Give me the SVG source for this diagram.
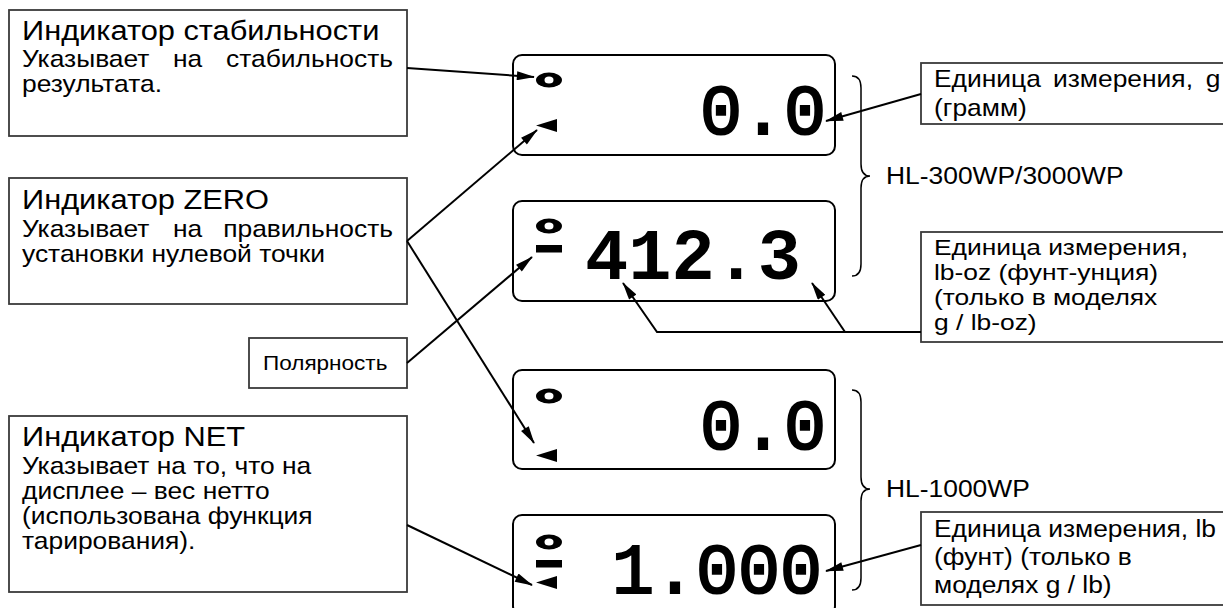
<svg xmlns="http://www.w3.org/2000/svg" xmlns:xlink="http://www.w3.org/1999/xlink" width="1223" height="608" viewBox="0 0 1223 608">
<style>
.box{fill:#fff;stroke:#3a3a3a;stroke-width:1.8}
.disp{fill:#fff;stroke:#000;stroke-width:2}
.ttl{font-family:"Liberation Sans",Arial,sans-serif;font-size:28px;fill:#000}
.bd{font-family:"Liberation Sans",Arial,sans-serif;font-size:24px;fill:#000}
.bs{font-family:"Liberation Sans",Arial,sans-serif;font-size:22px;fill:#000}
.sm{font-family:"Liberation Sans",Arial,sans-serif;font-size:20.5px;fill:#000}
.dig{font-family:"Liberation Mono","Courier New",monospace;font-size:70px;fill:#000;stroke:#000;stroke-width:2.2}
.digb{font-family:"Liberation Mono","Courier New",monospace;font-size:72px;font-weight:bold;fill:#000}
.con{fill:none;stroke:#000;stroke-width:2}
.brace{fill:none;stroke:#000;stroke-width:1.5}
</style>
<defs>
<marker id="ah" markerUnits="userSpaceOnUse" viewBox="0 0 20 10" markerWidth="20" markerHeight="9" refX="19" refY="5" orient="auto">
<path d="M0,0 L20,5 L0,10 z" fill="#000"/>
</marker>
<g id="dot"><ellipse cx="0" cy="0" rx="13" ry="7.5" fill="#000"/><ellipse cx="0" cy="0" rx="4.5" ry="3.5" fill="#fff"/></g>
<polygon id="tri" points="0,6.5 21,0 21,13" fill="#000"/>
<rect id="bar" width="26" height="7.5" fill="#000"/>
</defs>
<rect width="1223" height="608" fill="#fff"/>

<g id="stability">
<rect class="box" x="9" y="10" width="398" height="126"/>
<g transform="matrix(1.1,0,0,1,22,0)">
<text class="ttl" x="0" y="40">Индикатор стабильности</text>
<text class="bd" x="0" y="67">Указывает</text>
<text class="bd" x="137.3" y="67">на</text>
<text class="bd" x="337.3" y="67" text-anchor="end">стабильность</text>
<text class="bd" x="0" y="92">результата.</text>
</g>
</g>

<g id="zero">
<rect class="box" x="9" y="178" width="398" height="126"/>
<g transform="matrix(1.1,0,0,1,22,0)">
<text class="ttl" x="0" y="209">Индикатор ZERO</text>
<text class="bd" x="0" y="237">Указывает</text>
<text class="bd" x="137.3" y="237">на</text>
<text class="bd" x="337.3" y="237" text-anchor="end">правильность</text>
<text class="bd" x="0" y="262">установки нулевой точки</text>
</g>
</g>

<g id="polarity">
<rect class="box" x="249" y="338" width="158" height="50"/>
<g transform="matrix(1.1,0,0,1,263,0)">
<text class="sm" x="0" y="370">Полярность</text>
</g>
</g>

<g id="net">
<rect class="box" x="9" y="416" width="398" height="176"/>
<g transform="matrix(1.1,0,0,1,22,0)">
<text class="ttl" x="0" y="446">Индикатор NET</text>
<text class="bd" x="0" y="474">Указывает на то, что на</text>
<text class="bd" x="0" y="499">дисплее – вес нетто</text>
<text class="bd" x="0" y="524">(использована функция</text>
<text class="bd" x="0" y="549">тарирования).</text>
</g>
</g>

<g id="display1">
<rect class="disp" x="513" y="55" width="322" height="100" rx="9"/>
<use xlink:href="#dot" x="549" y="80"/>
<use xlink:href="#tri" x="536" y="119"/>
<text class="dig" x="700" y="134">0.0</text>
</g>

<g id="display2">
<rect class="disp" x="513" y="201" width="322" height="100" rx="9"/>
<use xlink:href="#dot" x="549" y="226"/>
<use xlink:href="#bar" x="536" y="245"/>
<text class="digb" x="585" y="279">412.3</text>
</g>

<g id="display3">
<rect class="disp" x="513" y="370" width="322" height="99" rx="9"/>
<use xlink:href="#dot" x="549" y="396"/>
<use xlink:href="#tri" x="536" y="449"/>
<text class="dig" x="700" y="449">0.0</text>
</g>

<g id="display4">
<rect class="disp" x="513" y="515" width="322" height="100" rx="9"/>
<use xlink:href="#dot" x="549" y="542"/>
<use xlink:href="#bar" x="536" y="560"/>
<use xlink:href="#tri" x="536" y="576"/>
<text class="dig" x="612" y="593" font-size="72">1.000</text>
</g>

<g id="unit-g">
<rect class="box" x="921" y="63" width="320" height="61"/>
<g transform="matrix(1.1,0,0,1,934,0)">
<text class="bd" x="0" y="87">Единица</text>
<text class="bd" x="108.2" y="87">измерения,</text>
<text class="bd" x="247" y="87">g</text>
<text class="bd" x="0" y="116">(грамм)</text>
</g>
</g>

<g id="unit-lboz">
<rect class="box" x="921" y="232" width="320" height="110"/>
<g transform="matrix(1.2,0,0,1,934,0)">
<text class="bs" x="0" y="255">Единица измерения,</text>
<text class="bs" x="0" y="280">lb-oz (фунт-унция)</text>
<text class="bs" x="0" y="305">(только в моделях</text>
<text class="bs" x="0" y="330">g / lb-oz)</text>
</g>
</g>

<g id="unit-lb">
<rect class="box" x="921" y="512" width="320" height="93"/>
<g transform="matrix(1.1,0,0,1,934,0)">
<text class="bd" x="0" y="537">Единица измерения, lb</text>
<text class="bd" x="0" y="565">(фунт) (только в</text>
<text class="bd" x="0" y="593">моделях g / lb)</text>
</g>
</g>

<g id="model-300">
<path class="brace" d="M852,76 Q861,76 861,88 L861,164 Q861,176 870,176 Q861,176 861,188 L861,264 Q861,276 852,276"/>
<g transform="matrix(1.1,0,0,1,886,0)">
<text class="bd" x="0" y="184">HL-300WP/3000WP</text>
</g>
</g>

<g id="model-1000">
<path class="brace" d="M852,390 Q861,390 861,402 L861,477 Q861,489 870,489 Q861,489 861,501 L861,578 Q861,590 852,590"/>
<g transform="matrix(1.1,0,0,1,886,0)">
<text class="bd" x="0" y="497">HL-1000WP</text>
</g>
</g>

<g id="connectors">
<path class="con" d="M407,68 L534,77" marker-end="url(#ah)"/>
<path class="con" d="M407,241 L537,130" marker-end="url(#ah)"/>
<path class="con" d="M407,241 L534,443" marker-end="url(#ah)"/>
<path class="con" d="M407,363 L532,257" marker-end="url(#ah)"/>
<path class="con" d="M407,525 L532,585" marker-end="url(#ah)"/>
<path class="con" d="M921,94 L826,121" marker-end="url(#ah)"/>
<path class="con" d="M921,332 L657,332 L623,283" marker-end="url(#ah)"/>
<path class="con" d="M845,332 L812,283" marker-end="url(#ah)"/>
<path class="con" d="M921,545 L826,571" marker-end="url(#ah)"/>
</g>
</svg>
